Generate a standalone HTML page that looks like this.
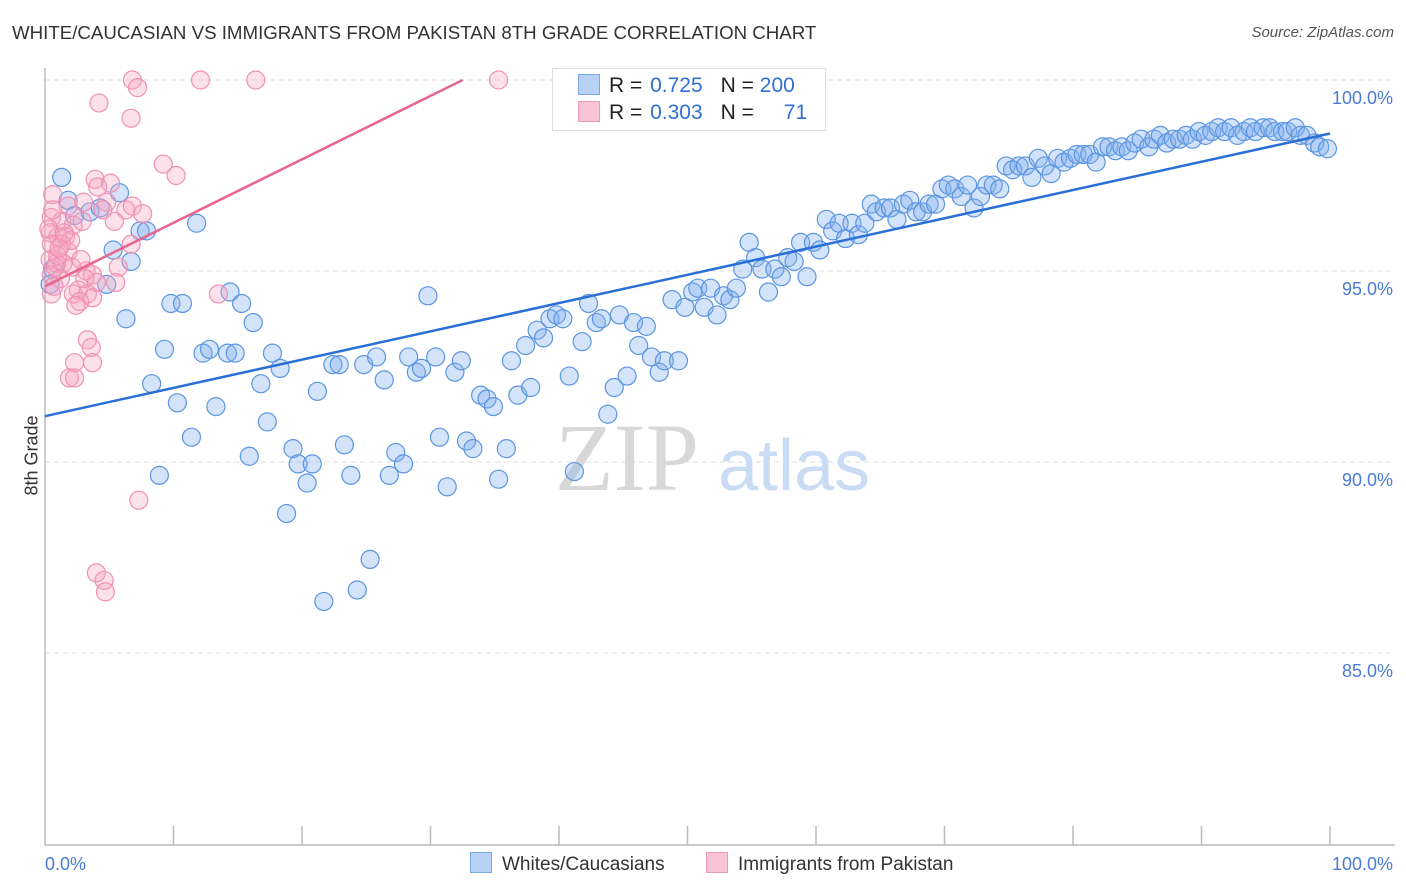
<!DOCTYPE html>
<html><head><meta charset="utf-8">
<style>
body{margin:0;background:#fff;font-family:"Liberation Sans",sans-serif;}
#wrap{position:relative;width:1406px;height:892px;overflow:hidden;}
.t{position:absolute;white-space:nowrap;}
</style></head>
<body>
<div id="wrap">
<div class="t" style="left:12px;top:22px;font-size:18.7px;color:#333;">WHITE/CAUCASIAN VS IMMIGRANTS FROM PAKISTAN 8TH GRADE CORRELATION CHART</div>
<div class="t" style="right:12px;top:24px;font-size:15px;color:#555;font-style:italic;">Source: ZipAtlas.com</div>
<div class="t" style="left:-8px;top:445px;font-size:18px;color:#333;transform:rotate(-90deg);transform-origin:center;">8th Grade</div>
<svg id="svg" width="1406" height="892" style="position:absolute;left:0;top:0;"></svg>
</div>
<script>
const yTicks=[100,95,90,85];
const xTickLabels=["0.0%","100.0%"];
const blueX=[1.3,1.8,0.6,0.4,2.3,3.5,4.3,5.8,5.3,7.4,7.9,6.7,4.8,6.3,11.8,9.8,10.7,9.3,8.3,10.3,12.3,12.8,14.2,14.8,14.4,15.3,16.2,13.3,11.4,8.9,15.9,16.8,17.3,17.7,18.3,18.8,19.3,19.7,20.4,20.8,21.2,21.7,22.4,22.9,23.3,23.8,24.3,24.8,25.3,25.8,26.4,26.8,27.3,27.9,28.3,28.9,29.3,29.8,30.4,30.7,31.3,31.9,32.4,32.8,33.3,33.9,34.4,34.9,35.3,35.9,36.3,36.8,37.4,37.8,38.3,38.8,39.3,39.8,40.3,40.8,41.2,41.8,42.3,42.9,43.3,43.8,44.3,44.7,45.3,45.8,46.2,46.8,47.2,47.8,48.2,48.8,49.3,49.8,50.4,50.8,51.3,51.8,52.3,52.8,53.3,53.8,54.3,54.8,55.3,55.8,56.3,56.8,57.3,57.8,58.3,58.8,59.3,59.8,60.3,60.8,61.3,61.8,62.3,62.8,63.3,63.8,64.3,64.7,65.3,65.8,66.3,66.8,67.3,67.8,68.3,68.8,69.3,69.8,70.3,70.8,71.3,71.8,72.3,72.8,73.3,73.8,74.3,74.8,75.3,75.8,76.3,76.8,77.3,77.8,78.3,78.8,79.3,79.8,80.3,80.8,81.3,81.8,82.3,82.8,83.3,83.8,84.3,84.8,85.3,85.9,86.3,86.8,87.3,87.8,88.3,88.8,89.3,89.8,90.3,90.8,91.3,91.8,92.3,92.8,93.3,93.8,94.2,94.8,95.3,95.7,96.3,96.7,97.3,97.7,98.2,98.8,99.2,99.8];
const blueY=[97.45,96.85,95.05,94.65,96.45,96.55,96.65,97.05,95.55,96.05,96.05,95.25,94.65,93.75,96.25,94.15,94.15,92.95,92.05,91.55,92.85,92.95,92.85,92.85,94.45,94.15,93.65,91.45,90.65,89.65,90.15,92.05,91.05,92.85,92.45,88.65,90.35,89.95,89.45,89.95,91.85,86.35,92.55,92.55,90.45,89.65,86.65,92.55,87.45,92.75,92.15,89.65,90.25,89.95,92.75,92.35,92.45,94.35,92.75,90.65,89.35,92.35,92.65,90.55,90.35,91.75,91.65,91.45,89.55,90.35,92.65,91.75,93.05,91.95,93.45,93.25,93.75,93.85,93.75,92.25,89.75,93.15,94.15,93.65,93.75,91.25,91.95,93.85,92.25,93.65,93.05,93.55,92.75,92.35,92.65,94.25,92.65,94.05,94.45,94.55,94.05,94.55,93.85,94.35,94.25,94.55,95.05,95.75,95.35,95.05,94.45,95.05,94.85,95.35,95.25,95.75,94.85,95.75,95.55,96.35,96.05,96.25,95.85,96.25,95.95,96.25,96.75,96.55,96.65,96.65,96.35,96.75,96.85,96.55,96.55,96.75,96.75,97.15,97.25,97.15,96.95,97.25,96.65,96.95,97.25,97.25,97.15,97.75,97.65,97.75,97.75,97.45,97.95,97.75,97.55,97.95,97.85,97.95,98.05,98.05,98.05,97.85,98.25,98.25,98.15,98.25,98.15,98.35,98.45,98.25,98.45,98.55,98.35,98.45,98.45,98.55,98.45,98.65,98.55,98.65,98.75,98.65,98.75,98.55,98.65,98.75,98.65,98.75,98.75,98.65,98.65,98.65,98.75,98.55,98.55,98.35,98.25,98.2];
const pinkX=[6.8,7.2,12.1,16.4,35.3,4.2,6.7,9.2,10.2,3.9,4.1,5.1,4.8,0.6,1.8,3.0,4.5,6.3,6.8,7.6,0.5,1.3,2.2,5.4,6.7,0.4,1.0,1.6,0.5,1.3,1.8,0.4,0.9,1.4,2.1,5.7,3.2,0.5,3.7,3.1,4.0,2.6,5.5,0.5,2.2,3.3,3.7,2.7,2.4,13.5,3.3,3.6,2.3,3.7,1.9,2.3,7.3,4.0,4.6,4.7,1.0,0.3,2.0,1.5,0.8,2.8,1.2,0.6,2.9,1.1,0.7];
const pinkY=[100.0,99.8,100.0,100.0,100.0,99.4,99.0,97.8,97.5,97.4,97.2,97.3,96.8,97.0,96.7,96.8,96.6,96.6,96.7,96.5,96.4,96.3,96.2,96.3,95.7,96.0,95.9,95.9,95.7,95.7,95.5,95.3,95.2,95.2,95.1,95.1,95.0,94.9,94.9,94.8,94.7,94.5,94.7,94.4,94.4,94.4,94.3,94.2,94.1,94.4,93.2,93.0,92.6,92.6,92.2,92.2,89.0,87.1,86.9,86.6,95.4,96.1,95.8,96.0,95.1,95.3,94.8,96.6,96.3,95.6,94.6];
const blueLine=[[0,91.2],[100,98.6]];
const pinkLine=[[0,94.6],[32.5,100]];

const X0=45,X1=1330,Y100=80,PX=38.2;
const sx=v=>X0+(X1-X0)*v/100;
const sy=v=>Y100+(100-v)*PX;
const svg=document.getElementById('svg');
const NS='http://www.w3.org/2000/svg';
function mk(tag,attrs){const e=document.createElementNS(NS,tag);for(const k in attrs)e.setAttribute(k,attrs[k]);svg.appendChild(e);return e;}

yTicks.forEach(t=>{
 const l=mk('line',{x1:45,x2:1395,y1:sy(t),y2:sy(t),stroke:'#ddd','stroke-dasharray':'5,4'});
 
 
 const tx=mk('text',{x:1393,y:sy(t)+24,'text-anchor':'end','font-size':18,fill:'#4a7bd4','font-family':'Liberation Sans, sans-serif'});
 tx.textContent=t.toFixed(1)+'%';
 
 
});
const ax=mk('path',{d:'M45 68 V845 H1395',fill:'none',stroke:'#bbb','stroke-width':1.5});


for(let i=1;i<=10;i++){
 const tk=mk('line',{x1:sx(i*10),x2:sx(i*10),y1:826,y2:845,stroke:'#bbb','stroke-width':1.5});
 
 
}
const xl0=mk('text',{x:45,y:870,'font-size':18,fill:'#4a7bd4','font-family':'Liberation Sans, sans-serif'});
xl0.textContent=xTickLabels[0];


const xl1=mk('text',{x:1393,y:870,'text-anchor':'end','font-size':18,fill:'#4a7bd4','font-family':'Liberation Sans, sans-serif'});
xl1.textContent=xTickLabels[1];



const wm1=mk('text',{x:555,y:490,'font-size':96,fill:'#d8d8d8','font-family':'Liberation Serif, serif'});
wm1.textContent='ZIP';


const wm2=mk('text',{x:718,y:490,'font-size':72,fill:'#c9dcf3','font-family':'Liberation Sans, sans-serif'});
wm2.textContent='atlas';



blueX.forEach((x,i)=>{
 const c=mk('circle',{cx:sx(x),cy:sy(blueY[i]),r:9,fill:'rgba(130,175,238,0.35)',stroke:'#5b95e0','stroke-width':1.2});
 
 
});
pinkX.forEach((x,i)=>{
 const c=mk('circle',{cx:sx(x),cy:sy(pinkY[i]),r:9,fill:'rgba(247,165,195,0.35)',stroke:'#f090b2','stroke-width':1.2});
 
 
});
const bl=mk('line',{x1:sx(blueLine[0][0]),y1:sy(blueLine[0][1]),x2:sx(blueLine[1][0]),y2:sy(blueLine[1][1]),stroke:'#2a6fd6','stroke-width':2.5});


const pl=mk('line',{x1:sx(pinkLine[0][0]),y1:sy(pinkLine[0][1]),x2:sx(pinkLine[1][0]),y2:sy(pinkLine[1][1]),stroke:'#e8668e','stroke-width':2.5});


</script>
<div class="t" style="left:552px;top:68px;width:272px;height:61px;border:1px solid #ddd;background:#fff;"></div>
<div class="t" style="left:578px;top:74px;font-size:21px;color:#222;">
 <span style="display:inline-block;width:20px;height:19px;background:#b7d2f5;border:1px solid #7aa8e6;vertical-align:-3px;margin-right:9px;"></span>R = <span style="color:#2f6fd6;margin-left:2px;">0.725</span><span style="margin-left:18px;">N = </span><span style="color:#2f6fd6;">200</span></div>
<div class="t" style="left:578px;top:101px;font-size:21px;color:#222;">
 <span style="display:inline-block;width:20px;height:19px;background:#f8c3d5;border:1px solid #ee9ab8;vertical-align:-3px;margin-right:9px;"></span>R = <span style="color:#2f6fd6;margin-left:2px;">0.303</span><span style="margin-left:18px;">N = </span><span style="color:#2f6fd6;margin-left:24px;">71</span></div>
<div class="t" style="left:470px;top:852px;font-size:19px;color:#333;">
 <span style="display:inline-block;width:20px;height:19px;background:#b7d2f5;border:1px solid #7aa8e6;vertical-align:-3px;margin-right:10px;"></span>Whites/Caucasians</div>
<div class="t" style="left:706px;top:852px;font-size:19px;color:#333;">
 <span style="display:inline-block;width:20px;height:19px;background:#f8c3d5;border:1px solid #ee9ab8;vertical-align:-3px;margin-right:10px;"></span>Immigrants from Pakistan</div>
</body></html>
